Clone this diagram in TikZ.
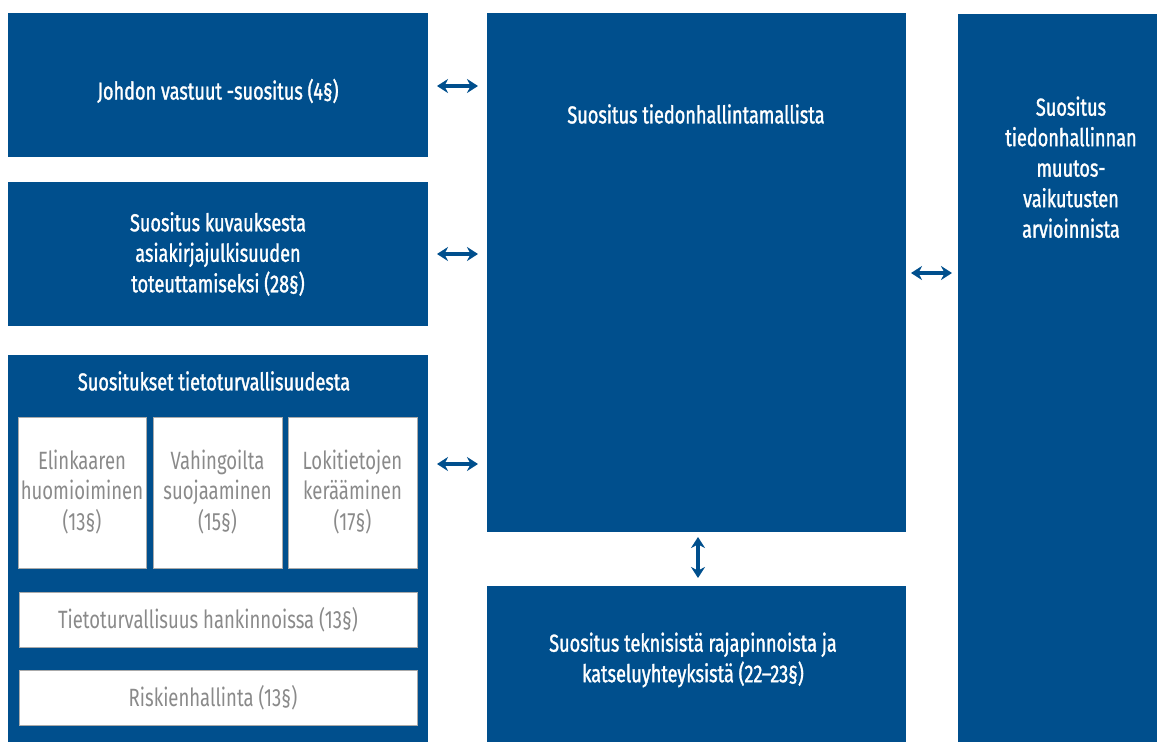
\documentclass[tikz,border=0pt]{standalone}
\usepackage{fontspec}
\setmainfont{Fira Sans}[FakeStretch=0.74]
\newfontfamily\medfont{Fira Sans}[FakeStretch=0.74,FakeBold=1.3]
\usetikzlibrary{arrows.meta}
\definecolor{navy}{RGB}{0,79,141}
\definecolor{greytext}{RGB}{138,138,138}
\definecolor{greyline}{RGB}{170,170,170}
\tikzset{
  bluebox/.style={fill=navy, draw=none},
  whitebox/.style={fill=white, draw=greyline, line width=0.8pt},
  btext/.style={text=white, align=center, font=\fontsize{24.5}{30.5}\medfont},
  gtext/.style={text=greytext, align=center, font=\fontsize{25}{30.5}\selectfont},
  link/.style={draw=navy, line width=3.6pt, {Stealth[length=11pt,width=14pt]}-{Stealth[length=11pt,width=14pt]}}
}
\begin{document}
\begin{tikzpicture}[x=1pt,y=-1pt]
\useasboundingbox (0,0) rectangle (1157,742);
% boxes
\fill[bluebox] (8,13) rectangle (428,157);
\node[btext] (johto) at (218,91) {Johdon vastuut -suositus (4§)};
\fill[bluebox] (8,182) rectangle (428,326);
\node[btext] (julk) at (218,254) {Suositus kuvauksesta\\asiakirjajulkisuuden\\toteuttamiseksi (28§)};
\fill[bluebox] (8,355) rectangle (428,742);
\node[btext] (tieto) at (214,381) {Suositukset tietoturvallisuudesta};
\draw[whitebox] (18,417) rectangle (146,568);
\node[gtext] (elin) at (82,492) {Elinkaaren\\huomioiminen\\(13§)};
\draw[whitebox] (153,417) rectangle (282,568);
\node[gtext] (vah) at (217.5,492) {Vahingoilta\\suojaaminen\\(15§)};
\draw[whitebox] (288,417) rectangle (417,568);
\node[gtext] (loki) at (352.5,492) {Lokitietojen\\kerääminen\\(17§)};
\draw[whitebox] (19,592) rectangle (417,647);
\node[gtext] (hank) at (208,619.5) {Tietoturvallisuus hankinnoissa (13§)};
\draw[whitebox] (19,670) rectangle (417,725);
\node[gtext] (riski) at (213,697.5) {Riskienhallinta (13§)};
\fill[bluebox] (487,13) rectangle (906,532);
\node[btext] (malli) at (696,114) {Suositus tiedonhallintamallista};
\fill[bluebox] (487,586) rectangle (906,742);
\node[btext] (rajap) at (693,660) {Suositus teknisistä rajapinnoista ja\\katseluyhteyksistä (22–23§)};
\fill[bluebox] (958,14) rectangle (1157,742);
\node[btext, anchor=north] (muutos) at (1071,93) {Suositus\\tiedonhallinnan\\muutos-\\vaikutusten\\arvioinnista};
% connectors
\coordinate (a1) at (437,86);  \coordinate (a2) at (478,86);
\coordinate (b1) at (437,254); \coordinate (b2) at (478,254);
\coordinate (c1) at (437,464); \coordinate (c2) at (478,464);
\coordinate (d1) at (911,273); \coordinate (d2) at (952,273);
\coordinate (e1) at (698,537); \coordinate (e2) at (698,578);
\draw[link] (a1) -- (a2);
\draw[link] (b1) -- (b2);
\draw[link] (c1) -- (c2);
\draw[link] (d1) -- (d2);
\draw[link] (e1) -- (e2);
\end{tikzpicture}
\end{document}
